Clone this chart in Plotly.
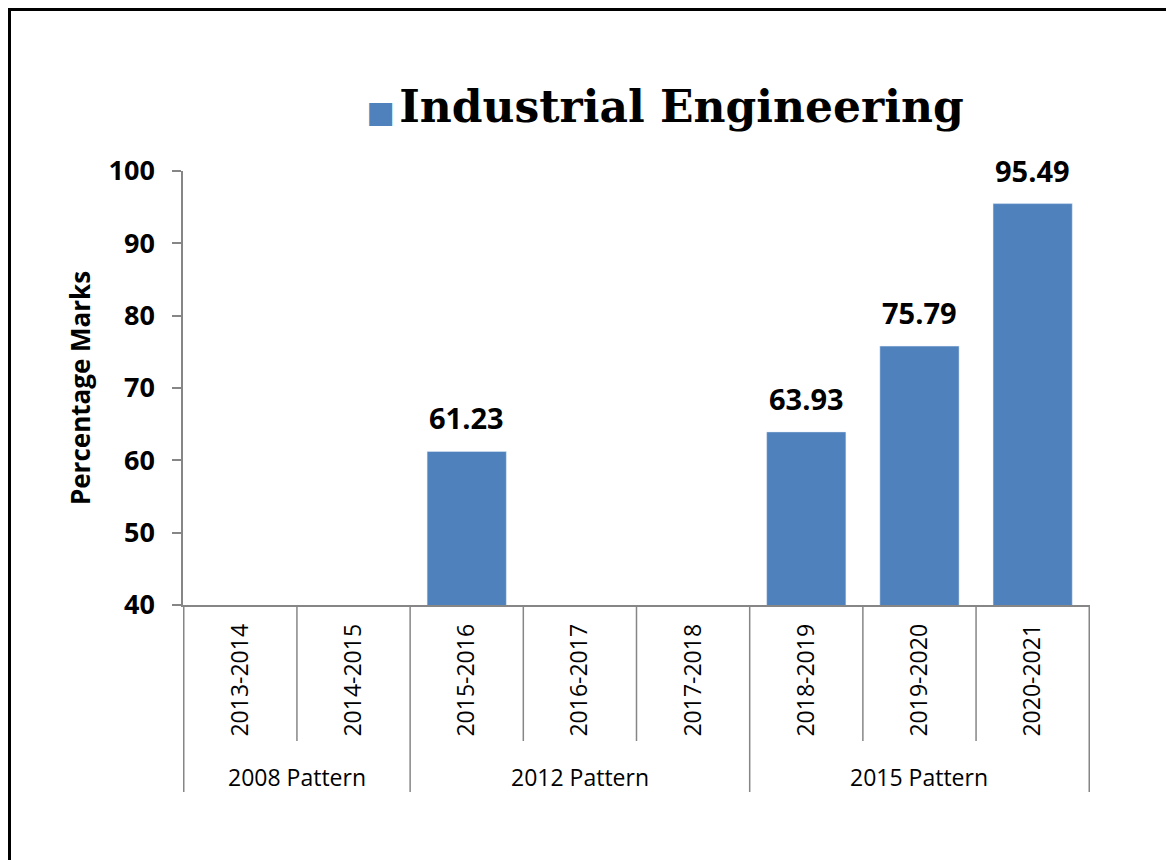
import plotly.graph_objects as go

years = ["2013-2014", "2014-2015", "2015-2016", "2016-2017", "2017-2018", "2018-2019", "2019-2020", "2020-2021"]
marks = [None, None, 61.23, None, None, 63.93, 75.79, 95.49]
patterns = ["2008 Pattern", "2012 Pattern", "2015 Pattern"]
pattern_sizes = [2, 3, 3]
series_name = "Industrial Engineering"

BAR_COLOR = "#4F81BD"
AXIS_COLOR = "#868686"
W, H = 1174, 860
OFF = 8  # page body margin shifts the figure by 8px
ML, MR, MT, MB = 183 - OFF, 84 + OFF, 171 - OFF, 255 + OFF
PW, PH = W - ML - MR, H - MT - MB


def py_paper(py):
    """Reference pixel row -> paper y."""
    return (H - MB - (py - OFF)) / PH


def px_paper(px):
    """Reference pixel column -> paper x."""
    return (px - OFF - ML) / PW


fig = go.Figure()
fig.add_bar(x=years, y=marks, name=series_name, marker_color=BAR_COLOR, showlegend=False)

for year, value in zip(years, marks):
    if value is None:
        continue
    fig.add_annotation(x=year, y=value, text=f"<b>{value:.2f}</b>", showarrow=False,
                       yanchor="bottom", yshift=12, font={"size": 29, "color": "black"})

# category dividers below the axis
inner_bottom = py_paper(741)
outer_bottom = py_paper(792)
group_edges = [0]
for size in pattern_sizes:
    group_edges.append(group_edges[-1] + size)
for i in range(len(years) + 1):
    bottom = outer_bottom if i in group_edges else inner_bottom
    fig.add_shape(type="line", xref="x", yref="paper", x0=i - 0.5, x1=i - 0.5, y0=0, y1=bottom,
                  line={"color": AXIS_COLOR, "width": 1.5})
for name, start, size in zip(patterns, group_edges, pattern_sizes):
    fig.add_annotation(x=start + (size - 1) / 2, xref="x", y=py_paper(777), yref="paper",
                       text=name, showarrow=False, yanchor="middle", font={"size": 23, "color": "black"})

# outer frame (left and top edges visible), kept inside the figure area
frame = {"color": "black", "width": 5}
fig.add_shape(type="line", xref="paper", yref="paper", x0=px_paper(OFF + 0.5), x1=px_paper(OFF + 0.5),
              y0=py_paper(OFF), y1=py_paper(H + 10), line=frame)
fig.add_shape(type="line", xref="paper", yref="paper", x0=px_paper(OFF), x1=px_paper(W + 10),
              y0=py_paper(OFF + 0.5), y1=py_paper(OFF + 0.5), line=frame)

fig.update_layout(
    width=W, height=H, margin={"l": ML, "r": MR, "t": MT, "b": MB, "autoexpand": False},
    plot_bgcolor="white", paper_bgcolor="white", bargap=0.3, showlegend=False,
    font={"family": "Open Sans", "color": "black"},
    title={"text": f"<span style='color:{BAR_COLOR};font-size:30px'>■</span>"
                   f"<span style='font-size:14px'> </span><b>{series_name}</b>",
           "x": (665 - OFF) / W, "xanchor": "center", "y": 1 - (107 - OFF) / H, "yanchor": "middle",
           "font": {"family": "DejaVu Serif", "size": 44, "color": "black"}},
)
fig.update_yaxes(range=[40, 100], dtick=10, showline=True, linecolor=AXIS_COLOR, linewidth=1.5,
                 ticks="outside", ticklen=9, tickcolor=AXIS_COLOR, tickwidth=1.5, showgrid=False,
                 zeroline=False, ticklabelstandoff=12, tickfont={"size": 27}, tickprefix="<b>", ticksuffix="</b>",
                 title={"text": "<b>Percentage Marks</b>", "font": {"size": 26}, "standoff": 10})
fig.update_xaxes(showline=True, linecolor=AXIS_COLOR, linewidth=1.5, tickangle=-90, ticks="",
                 showgrid=False, tickfont={"size": 23}, ticklabelstandoff=8)

fig.write_html("out.html")
